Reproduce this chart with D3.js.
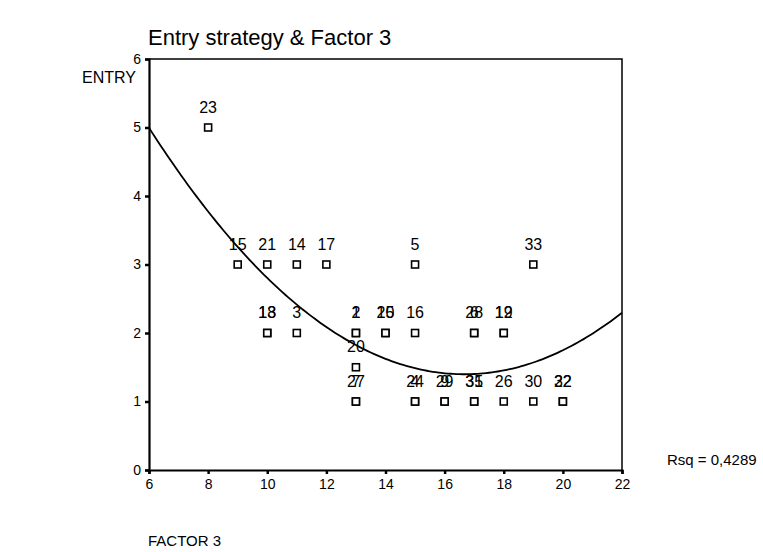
<!DOCTYPE html>
<html>
<head>
<meta charset="utf-8">
<script src="https://cdn.jsdelivr.net/npm/d3@7"></script>
<style>
  body { margin: 0; background: #fff; }
  text { font-family: Arial, "Liberation Sans", sans-serif; fill: #000; }
</style>
</head>
<body>
<div id="chart"></div>
<script>
// case labels, factor 3 score and entry strategy
const caseLabels = ["23", "15", "21", "14", "17", "5", "33",
  "13", "18", "3", "1", "2", "10", "25", "16", "28", "6", "12", "19",
  "20", "27", "7", "24", "4", "29", "9", "35", "31", "26", "30", "22", "32"];
const factor3 = [8, 9, 10, 11, 12, 15, 19,
  10, 10, 11, 13, 13, 14, 14, 15, 17, 17, 18, 18,
  13, 13, 13, 15, 15, 16, 16, 17, 17, 18, 19, 20, 20];
const entry = [5, 3, 3, 3, 3, 3, 3,
  2, 2, 2, 2, 2, 2, 2, 2, 2, 2, 2, 2,
  1.5, 1, 1, 1, 1, 1, 1, 1, 1, 1, 1, 1, 1];

// quadratic fit: entry = b0 + b1*f + b2*f^2
const fitCoef = [10.18, -1.0536, 0.0316];
const rsqText = "Rsq = 0,4289";

const xTicks = [6, 8, 10, 12, 14, 16, 18, 20, 22];
const yTicks = [0, 1, 2, 3, 4, 5, 6];

const width = 763, height = 552;
const plot = {left: 149, right: 622, top: 59, bottom: 470};

const svg = d3.select("#chart")
  .append("svg")
  .attr("width", width)
  .attr("height", height);

const x = d3.scaleLinear()
  .domain([6, 22])
  .range([plot.left, plot.right]);

const y = d3.scaleLinear()
  .domain([0, 6])
  .range([plot.bottom, plot.top]);

// frame top + right
svg.append("path")
  .attr("d", `M${plot.left},${plot.top}H${plot.right}V${plot.bottom}`)
  .attr("fill", "none")
  .attr("stroke", "#000")
  .attr("stroke-width", 1.5);

// x axis
const xAxis = svg.append("g")
  .attr("transform", `translate(0,${plot.bottom})`)
  .call(d3.axisBottom(x).tickValues(xTicks).tickFormat(d3.format("d")).tickSize(4).tickPadding(5));

// y axis
const yAxis = svg.append("g")
  .attr("transform", `translate(${plot.left},0)`)
  .call(d3.axisLeft(y).tickValues(yTicks).tickFormat(d3.format("d")).tickSize(4).tickPadding(4));

[xAxis, yAxis].forEach(g => {
  g.select(".domain").attr("stroke-width", 2.2);
  g.selectAll(".tick line").attr("stroke-width", 2.5);
  g.selectAll(".tick text")
    .style("font-size", "14px")
    .style("font-family", "Arial, 'Liberation Sans', sans-serif");
});

// fit curve
const fitX = d3.range(6, 22.01, 0.1);
const line = d3.line()
  .x(d => x(d))
  .y(d => y(fitCoef[0] + fitCoef[1] * d + fitCoef[2] * d * d));

svg.append("path")
  .datum(fitX)
  .attr("d", line)
  .attr("fill", "none")
  .attr("stroke", "#000")
  .attr("stroke-width", 1.8);

// points
const points = caseLabels.map((c, i) => ({label: c, f: factor3[i], e: entry[i]}));

svg.append("g")
  .selectAll("rect")
  .data(points)
  .join("rect")
    .attr("x", d => x(d.f) - 3.5)
    .attr("y", d => y(d.e) - 3.5)
    .attr("width", 7)
    .attr("height", 7)
    .attr("fill", "#fff")
    .attr("stroke", "#000")
    .attr("stroke-width", 1.6);

svg.append("g")
  .selectAll("text")
  .data(points)
  .join("text")
    .attr("x", d => x(d.f))
    .attr("y", d => y(d.e) - 15)
    .attr("text-anchor", "middle")
    .style("font-size", "16px")
    .text(d => d.label);

// titles
svg.append("text")
  .attr("x", 148)
  .attr("y", 45)
  .style("font-size", "22px")
  .text("Entry strategy & Factor 3");

svg.append("text")
  .attr("x", 82)
  .attr("y", 83)
  .style("font-size", "16px")
  .text("ENTRY");

svg.append("text")
  .attr("x", 148)
  .attr("y", 546)
  .style("font-size", "15px")
  .text("FACTOR 3");

svg.append("text")
  .attr("x", 667)
  .attr("y", 465)
  .style("font-size", "15px")
  .text(rsqText);
</script>
</body>
</html>
